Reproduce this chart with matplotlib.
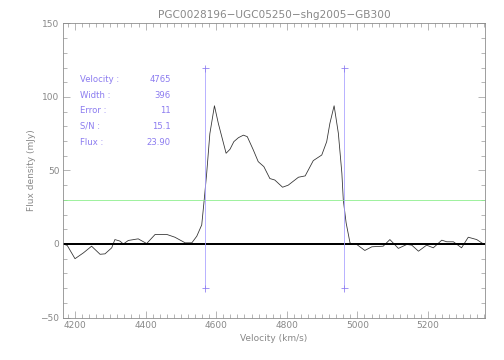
import matplotlib
matplotlib.use("Agg")
import matplotlib.pyplot as plt
from matplotlib.ticker import MultipleLocator
import numpy as np

# spectrum
velocity = [4167, 4178, 4200, 4224, 4247, 4271, 4285, 4304, 4313, 4327, 4337, 4351,
            4379, 4403, 4427, 4460, 4483, 4512, 4531, 4545, 4559, 4566, 4573, 4582,
            4595, 4606, 4628, 4639, 4650, 4663, 4677, 4688, 4705, 4719, 4735, 4752,
            4766, 4788, 4804, 4833, 4852, 4875, 4899, 4913, 4922, 4934, 4946, 4956,
            4960, 4968, 4979, 4984, 4998, 5021, 5041, 5073, 5092, 5116, 5140, 5154,
            5173, 5196, 5215, 5239, 5253, 5272, 5295, 5314, 5338, 5357]
flux = [0, -1, -10, -6, -1.5, -7, -6.7, -2.6, 3, 2, 0, 2.4,
        3.5, 0.3, 6.5, 6.5, 4.6, 0.8, 0.8, 5.3, 13, 30, 48, 75,
        94, 82, 61.7, 64.4, 69.6, 72.3, 74, 73, 64, 56, 52.6, 44.5,
        43.5, 38.6, 40, 45.4, 46.3, 56.7, 60.5, 69.6, 82, 94, 75.3, 48,
        30, 14.4, 0.8, 0, -0.3, -4.4, -1.9, -1.5, 3, -3, -0.3, -0.8,
        -4.9, -0.8, -2.6, 2.6, 1.5, 1.5, -2.6, 4.6, 3, 0]

v_center = 4765
w50 = 396
threshold = 30
info_labels = ["Velocity :", "Width :", "Error :", "S/N :", "Flux :"]
info_values = ["4765", "396", "11", "15.1", "23.90"]

gray = "#888888"
purple = "#8c7cf0"

fig = plt.figure(figsize=(7, 5), dpi=72)
ax = fig.add_axes([0.125, 0.118, 0.837, 0.817])

ax.plot(velocity, flux, color="#333333", lw=0.8)
ax.axhline(0, color="black", lw=2)
ax.axhline(threshold, color="#88ee88", lw=0.8)
for v in [v_center - w50 / 2, v_center + w50 / 2]:
    ax.plot([v, v], [-30, 120], color="#a8a0ff", lw=0.8, marker="+", ms=7, mew=0.8, mec="#8c7cf0")

ax.set_xlim(4166, 5361)
ax.set_ylim(-50, 150)
ax.xaxis.set_major_locator(MultipleLocator(200))
ax.xaxis.set_minor_locator(MultipleLocator(20))
ax.yaxis.set_major_locator(MultipleLocator(50))
ax.yaxis.set_minor_locator(MultipleLocator(10))
ax.tick_params(which="both", direction="in", top=True, right=True, colors=gray,
               labelcolor=gray, labelsize=9, width=0.6)
ax.tick_params(which="major", length=7)
ax.tick_params(which="minor", length=4)
for s in ax.spines.values():
    s.set_color(gray)
    s.set_linewidth(0.8)

ax.set_xlabel("Velocity (km/s)", color=gray, fontsize=9)
ax.set_ylabel("Flux density (mJy)", color=gray, fontsize=9)
ax.set_title("PGC0028196\u2212UGC05250\u2212shg2005\u2212GB300", color=gray, fontsize=10.5, pad=5)

for i, (lab, val) in enumerate(zip(info_labels, info_values)):
    y = 0.81 - i * 0.0535
    ax.text(0.04, y, lab, transform=ax.transAxes, color=purple, fontsize=8.5, va="center")
    ax.text(0.255, y, val, transform=ax.transAxes, color=purple, fontsize=8.5, va="center", ha="right")

fig.savefig("out.png", dpi=72)
